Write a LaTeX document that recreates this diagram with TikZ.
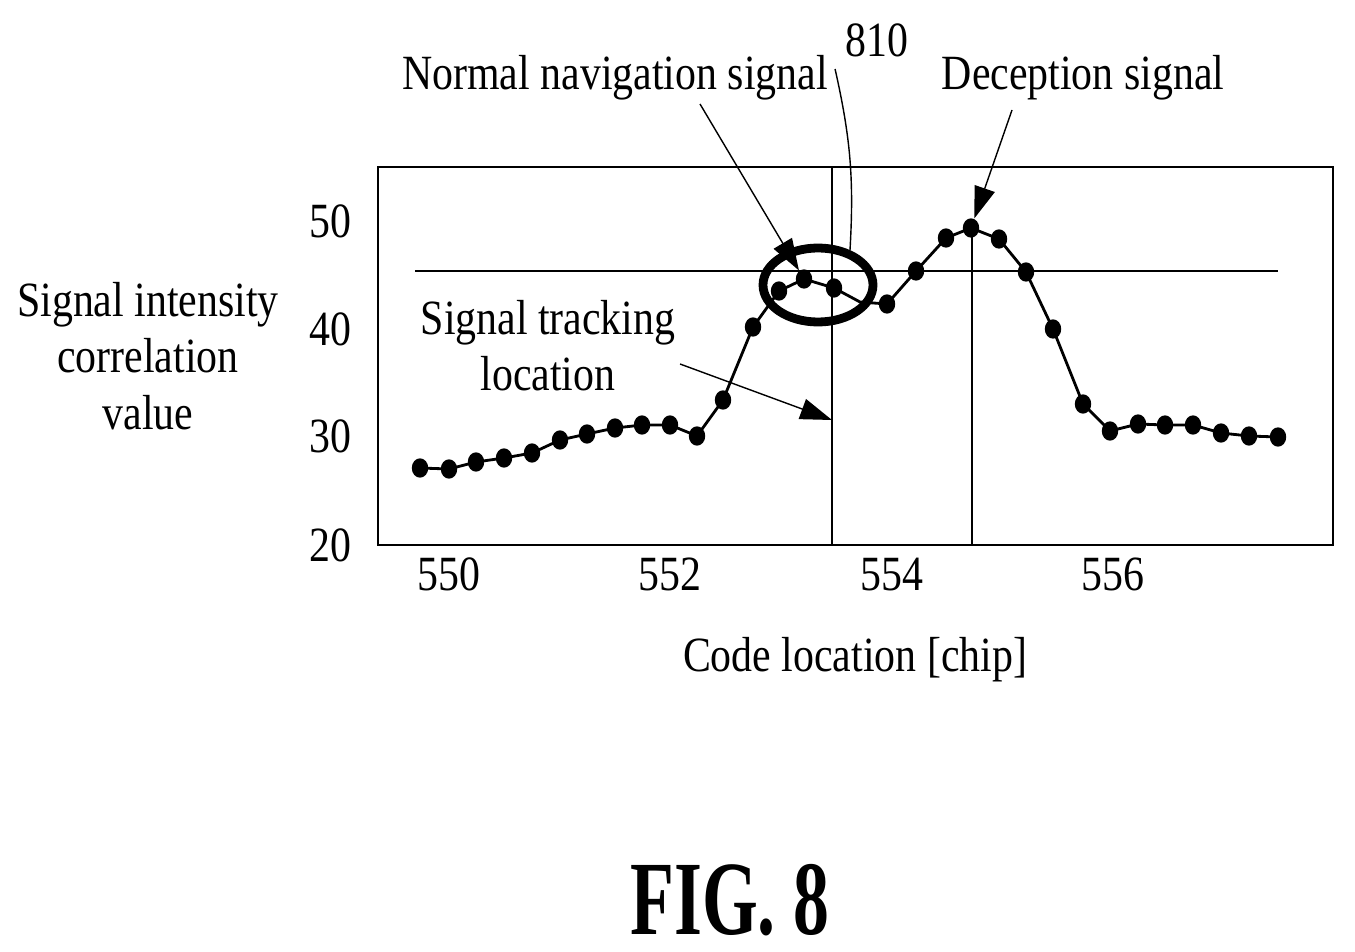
\documentclass[tikz,border=0pt]{standalone}
\usepackage{fontspec}
\setmainfont{Liberation Serif}
\usetikzlibrary{arrows.meta}
\begin{document}
\begin{tikzpicture}[x=0.01cm, y=-0.01cm, every node/.style={font=\fontsize{14}{16}\selectfont, xscale=0.85},
    dot/.style={circle, fill=black, inner sep=0pt, minimum size=5.5pt, xscale=1},
    pointer/.style={-{Triangle[length=9pt,width=6pt]}, thin}]
    % frame
    \useasboundingbox (0,0) rectangle (1355,952);
    \draw[thick] (378,167) rectangle (1333,545);
    % axis labels
    \foreach \v/\py in {50/221, 40/329, 30/436, 20/545}
        \node[anchor=east] at (362,\py) {\v};
    \foreach \v/\px in {550/449, 552/670, 554/892, 556/1113}
        \node[anchor=base] at (\px,590) {\v};
    \node (xlab) at (855,660) {Code location [chip]};
    \node[align=center] (ylab) at (148,356) {Signal intensity\\correlation\\value};
    % reference lines
    \draw (415,271) -- (1278,271);
    \draw (832,167) -- (832,545);
    \coordinate (track) at (832,420);
    \draw (972,228) -- (972,545);
    % curve
    \draw[thick] plot coordinates {(420,468) (449,469) (476,462) (504,458) (532,453) (560,440) (587,434) (615,428) (642,425) (670,425) (697,436) (723,400) (753,327) (779,291) (804,279) (834,288) (860,302) (887,304) (916,271) (946,238) (971,228) (999,239) (1026,272) (1053,329) (1083,404) (1110,431) (1138,424) (1165,425) (1193,425) (1221,433) (1249,436) (1278,437)};
    \foreach \px/\py in {420/468, 449/469, 476/462, 504/458, 532/453, 560/440, 587/434, 615/428, 642/425, 670/425, 697/436, 723/400, 753/327, 779/291, 834/288, 887/304, 916/271, 946/238, 999/239, 1026/272, 1053/329, 1083/404, 1110/431, 1138/424, 1165/425, 1193/425, 1221/433, 1249/436, 1278/437}
        \node[dot] at (\px,\py) {};
    \node[dot] (peakN) at (804,279) {};
    \node[dot] (peakD) at (971,228) {};
    % circled region 810
    \draw[line width=2.5pt] (818,285) ellipse (55 and 37);
    \coordinate (ring) at (850,250);
    % labels
    \node (n810) at (877,40) {810};
    \node (normal) at (615,78) {Normal navigation signal};
    \node (decep) at (1083,78) {Deception signal};
    \node[align=center] (tracking) at (548,346) {Signal tracking\\location};
    \draw (n810.south west) to[bend left=8] (ring);
    \draw[pointer] (700,104) -- (peakN);
    \draw[pointer] (1012,110) -- (peakD);
    \draw[pointer] (680,364) -- (track);
    \node[font=\bfseries\fontsize{30}{32}\selectfont, xscale=0.8] (fig) at (730,900) {FIG. 8};
\end{tikzpicture}
\end{document}
